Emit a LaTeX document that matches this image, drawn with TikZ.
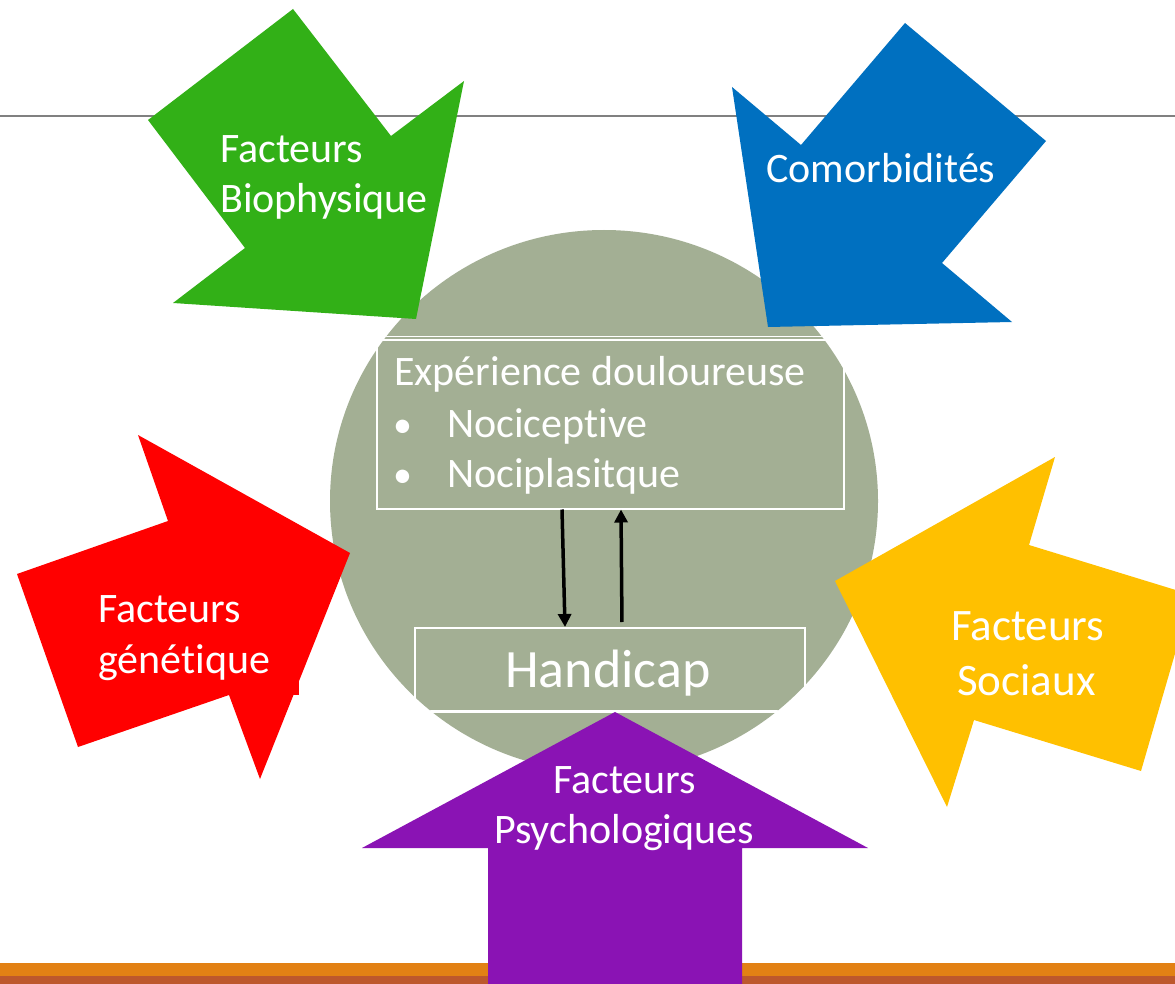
\documentclass[tikz,border=0pt]{standalone}
\usepackage{fontspec}
\setmainfont{Carlito}[RawFeature=-liga]
\usetikzlibrary{arrows.meta,calc}
\definecolor{cgreen}{RGB}{50,176,23}
\definecolor{cblue}{RGB}{0,112,192}
\definecolor{cred}{RGB}{255,0,0}
\definecolor{cyellow}{RGB}{255,192,0}
\definecolor{cpurple}{RGB}{138,19,180}
\definecolor{ccircle}{RGB}{163,175,148}
\definecolor{corange}{RGB}{226,129,20}
\definecolor{cbrown}{RGB}{189,88,44}
\definecolor{cline}{RGB}{128,128,128}
\begin{document}
\begin{tikzpicture}[x=1pt,y=-1pt,
  lbl/.style={text=white,inner sep=0pt,anchor=base west,font=\fontsize{42}{50}\selectfont},
  boxnode/.style={draw=white,line width=1.5pt,inner sep=0pt,anchor=north west},
  conn/.style={line width=3.5pt,-{Triangle[width=13pt,length=13pt]}}]
\clip (0,0) rectangle (1175,984);
\fill[white] (0,0) rectangle (1175,984);
% top rule
\draw[cline,line width=1.2pt] (0,116) -- (1175,116);
% bottom bars
\fill[corange] (0,963) rectangle (1175,976);
\fill[cbrown] (0,976) rectangle (1175,984);
% circle
\fill[ccircle] (604,501) ellipse [x radius=274pt, y radius=271pt];
\begin{scope}
  \clip (604,501) ellipse [x radius=274pt, y radius=271pt];
  \draw[white,line width=1.2pt] (300,336.5) -- (900,336.5);
  \draw[white,line width=1.2pt] (300,711) -- (900,711);
\end{scope}
% boxes
\node[boxnode,minimum width=467pt,minimum height=169pt] (exp) at (376,339) {};
\node[boxnode,minimum width=390pt,minimum height=84pt] (hand) at (414,627) {};
\node[lbl] (t1) at (394,385) {Expérience douloureuse};
\node[lbl,font=\fontsize{38}{46}\selectfont] (b1) at (393,437) {•};
\node[lbl] (t2) at (447,437) {Nociceptive};
\node[lbl,font=\fontsize{38}{46}\selectfont] (b2) at (393,487) {•};
\node[lbl] (t3) at (447,487) {Nociplasitque};
\node[lbl,font=\fontsize{54}{60}\selectfont] (th) at (505,687) {Handicap};
% connectors
\draw[conn] (562,0 |- exp.south) -- (565,0 |- hand.north);
\draw[conn,shorten <=5pt] (622,0 |- hand.north) -- (621,0 |- exp.south);
% green arrow
\fill[cgreen] (293,9) -- (391,136) -- (464,81) -- (416,319) -- (173,303) -- (245,248) -- (148,120) -- cycle;
\node[lbl] (g1) at (220,163) {Facteurs};
\node[lbl] (g2) at (220,213) {Biophysique};
% blue arrow
\fill[cblue] (905,23) -- (1046,141) -- (942,263) -- (1012,322) -- (768,327) -- (732,87) -- (801,145) -- cycle;
\node[lbl] (c1) at (766,183) {Comorbidités};
% red arrow
\fill[cred] (138,435) -- (350,553) -- (260,779) -- (229,695) -- (78,747) -- (17,574) -- (168,521) -- cycle;
\fill[cred] (280,680) rectangle (299,695);
\node[lbl] (r1) at (98,622) {Facteurs};
\node[lbl] (r2) at (98,673) {génétique};
% yellow arrow
\fill[cyellow] (835,581) -- (1055,457) -- (1029,545) -- (1192,595) -- (1141,771) -- (974,720) -- (947,807) -- cycle;
\node[lbl,font=\fontsize{45}{52}\selectfont] (y1) at (951,640) {Facteurs};
\node[lbl,font=\fontsize{45}{52}\selectfont] (y2) at (957,695) {Sociaux};
% purple arrow
\fill[cpurple] (615,712) -- (868,848) -- (742,848) -- (742,990) -- (488,990) -- (488,848) -- (362,848) -- cycle;
\node[lbl] (p1) at (553,793) {Facteurs};
\node[lbl] (p2) at (494,843) {Psychologiques};
\end{tikzpicture}
\end{document}
